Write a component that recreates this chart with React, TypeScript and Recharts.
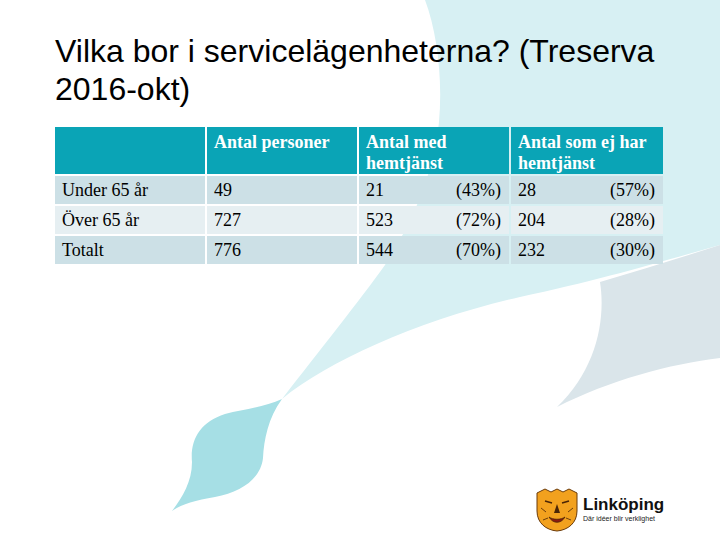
import React from "react"
import { ComposedChart, XAxis, YAxis, Scatter, Customized } from "recharts"

// table content
const headerLines = [[], ["Antal personer"], ["Antal med", "hemtjänst"], ["Antal som ej har", "hemtjänst"]]
const groups = ["Under 65 år", "Över 65 år", "Totalt"]
const antalPersoner = [49, 727, 776]
const medHemtjanst = [21, 523, 544]
const medAndel = [43, 72, 70]
const utanHemtjanst = [28, 204, 232]
const utanAndel = [57, 28, 30]

const titleLines = ["Vilka bor i servicelägenheterna? (Treserva", "2016-okt)"]

// layout (pixels, axes map 1:1 onto the 720x540 surface)
const W = 720
const H = 540
const colLeft = [55, 207, 359, 511]
const colRight = [205, 357, 509, 663]
const headerTop = 127
const headerBottom = 174
const rowTop = [176, 206, 236]
const rowH = 28

const TEAL = "#0AA4B6"
const ROW_DARK = "#CCE0E6"
const ROW_LIGHT = "#E6EFF2"
const SERIF = "'Liberation Serif', 'Times New Roman', serif"
const SANS = "'Liberation Sans', Arial, sans-serif"

type CellDatum = {
  x: number
  y: number
  w: number
  h: number
  fill: string
  header: boolean
  lines: string[]
  pct?: number
}

const cells: CellDatum[] = []
headerLines.forEach((lines, c) => {
  cells.push({
    x: (colLeft[c] + colRight[c]) / 2,
    y: (headerTop + headerBottom) / 2,
    w: colRight[c] - colLeft[c],
    h: headerBottom - headerTop,
    fill: TEAL,
    header: true,
    lines,
  })
})
groups.forEach((g, r) => {
  const rowCells = [
    { lines: [g] },
    { lines: [String(antalPersoner[r])] },
    { lines: [String(medHemtjanst[r])], pct: medAndel[r] },
    { lines: [String(utanHemtjanst[r])], pct: utanAndel[r] },
  ]
  rowCells.forEach((rc, c) => {
    cells.push({
      x: (colLeft[c] + colRight[c]) / 2,
      y: rowTop[r] + rowH / 2,
      w: colRight[c] - colLeft[c],
      h: rowH,
      fill: r % 2 === 0 ? ROW_DARK : ROW_LIGHT,
      header: false,
      lines: rc.lines,
      pct: rc.pct,
    })
  })
})

const TableCell = (props: any) => {
  const { cx, cy, payload } = props
  const d = payload as CellDatum
  const left = cx - d.w / 2
  const top = cy - d.h / 2
  return (
    <g>
      <rect x={left} y={top} width={d.w} height={d.h} fill={d.fill} />
      {d.header
        ? d.lines.map((l, i) => (
            <text key={i} x={left + 7} y={top + 21 + i * 21} fontFamily={SERIF} fontWeight="bold" fontSize={18} fill="#fff">
              {l}
            </text>
          ))
        : (
          <>
            <text x={left + 7} y={cy + 6} fontFamily={SERIF} fontSize={18} fill="#000">
              {d.lines[0]}
            </text>
            {d.pct !== undefined && (
              <text x={left + d.w - 8} y={cy + 6} textAnchor="end" fontFamily={SERIF} fontSize={18} fill="#000">
                {`(${d.pct}%)`}
              </text>
            )}
          </>
        )}
    </g>
  )
}

const Backdrop = () => (
  <g>
    {/* light cyan swoosh */}
    <path
      d="M425,0 L720,0 L720,245 C660,262 600,280 520,297 C420,320 330,360 282,399 C320,350 360,300 385,265 C400,240 420,210 435,150 C445,100 440,40 425,0 Z"
      fill="#D7F0F3"
    />
    {/* grey-blue swoosh on the right */}
    <path
      d="M720,245 C680,258 640,270 600,282 C606,320 596,370 557,407 C610,380 670,364 720,358 Z"
      fill="#DAE5EA"
    />
    {/* leaf */}
    <path
      d="M282,399 C268,418 264,440 263,458 C261,478 242,492 215,497 C195,500 180,505 172,511 C182,498 192,482 192,462 C190,440 200,422 225,414 C245,409 265,407 282,399 Z"
      fill="#A6DFE5"
    />
    {titleLines.map((t, i) => (
      <text key={i} x={55} y={62 + i * 38} fontFamily={SANS} fontSize={32} fill="#000">
        {t}
      </text>
    ))}
    {/* logo */}
    <g>
      <path
        d="M537,493 L545,489 L551,492 L557,489 L563,492 L569,489 L577,493 L577,511 C577,523 568,530 557,531 C546,530 537,523 537,511 Z"
        fill="#F2A11E"
        stroke="#6B3A08"
        strokeWidth={1}
      />
      <path d="M545,501 L552,503 M569,501 L562,503" stroke="#4A2506" strokeWidth={1.6} />
      <path d="M557,504 L554,513 L560,513 Z" fill="#4A2506" />
      <path d="M549,517 C553,524 561,524 565,517 C561,520 553,520 549,517 Z" fill="#8B1A10" stroke="#4A2506" strokeWidth={0.8} />
      <path d="M541,508 L546,512 M573,508 L568,512 M543,520 L548,518 M571,520 L566,518" stroke="#4A2506" strokeWidth={0.8} />
      <text x={583} y={510} fontFamily={SANS} fontWeight="bold" fontSize={17} fill="#111">
        Linköping
      </text>
      <text x={583} y={521} fontFamily={SANS} fontSize={7} fill="#222">
        Där idéer blir verklighet
      </text>
    </g>
  </g>
)

export default function App() {
  return (
    <div style={{ position: "absolute", left: 0, top: 0, width: W, height: H, background: "#fff" }}>
      <ComposedChart width={W} height={H} data={cells} margin={{ top: 0, right: 0, bottom: 0, left: 0 }}>
        <XAxis type="number" dataKey="x" domain={[0, W]} hide allowDataOverflow />
        <YAxis type="number" dataKey="y" domain={[0, H]} reversed hide allowDataOverflow />
        <Customized component={Backdrop} />
        <Scatter data={cells} dataKey="y" shape={TableCell} isAnimationActive={false} />
      </ComposedChart>
    </div>
  )
}
